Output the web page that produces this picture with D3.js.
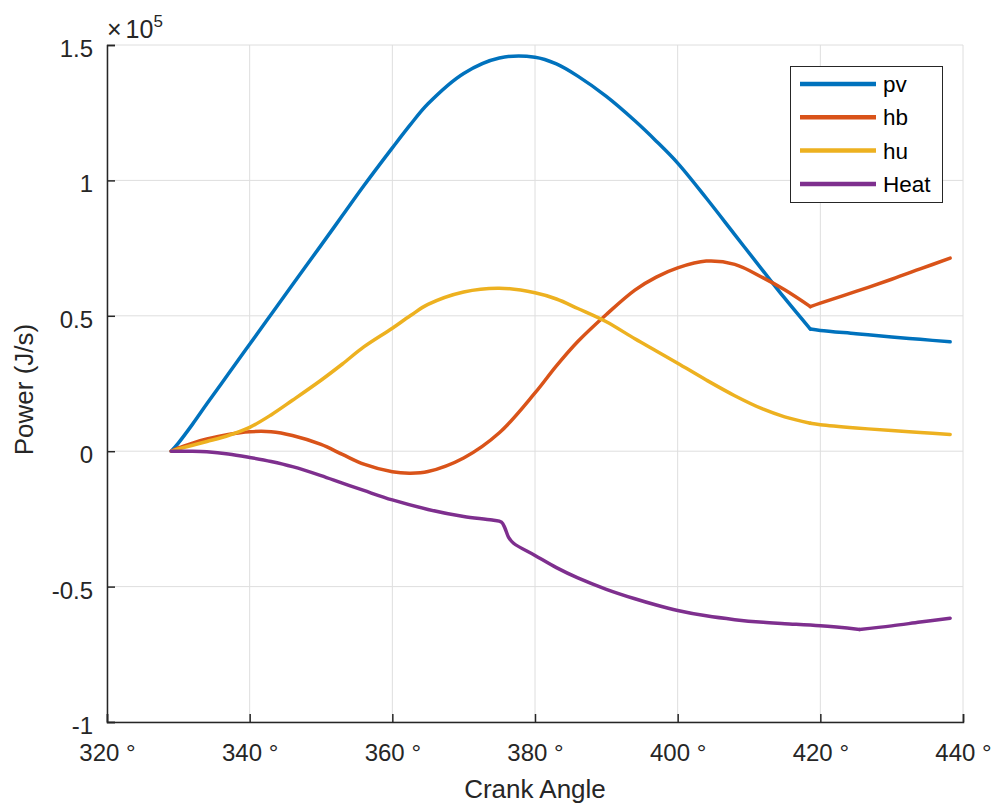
<!DOCTYPE html>
<html>
<head>
<meta charset="utf-8">
<script src="https://cdn.jsdelivr.net/npm/d3@7/dist/d3.min.js"></script>
<style>
  body { margin: 0; background: #ffffff; }
  svg { display: block; font-family: "Liberation Sans", Arial, sans-serif; }
</style>
</head>
<body>
<div id="chart"></div>
<script>
'use strict';

// crank angle samples (deg) for pv, hb, hu
var angle = [329, 330, 332, 334, 337, 340, 343, 346, 350, 353, 356, 360, 362.5, 365, 370, 375,
  380, 383, 386, 390, 394, 397, 400, 404, 408, 412, 415, 418.6, 420, 425, 430, 434, 438.2];
// crank angle samples (deg) for Heat (denser around the step near 376 deg)
var angleHeat = [329, 332, 334, 337, 340, 343, 346, 350, 353, 356, 360, 365, 370, 374, 375.3, 375.8, 376.3, 377,
  380, 383, 386, 390, 394, 397, 400, 404, 408, 412, 415, 420, 425.5, 430, 434, 438.2];

// power values, in units of 1e5 J/s
var pv = [0, 0.03, 0.10, 0.175, 0.285, 0.395, 0.505, 0.615, 0.76, 0.87, 0.98, 1.12, 1.205, 1.283, 1.395, 1.452,
  1.455, 1.43, 1.385, 1.31, 1.22, 1.145, 1.064, 0.935, 0.80, 0.665, 0.565, 0.451, 0.446, 0.434, 0.422, 0.413, 0.404];
var hb = [0, 0.012, 0.03, 0.045, 0.062, 0.072, 0.072, 0.058, 0.025, -0.012, -0.048, -0.076, -0.081, -0.075, -0.025, 0.068,
  0.215, 0.315, 0.405, 0.505, 0.595, 0.643, 0.677, 0.702, 0.69, 0.64, 0.596, 0.534, 0.547, 0.59, 0.635, 0.673, 0.713];
var hu = [0, 0.008, 0.022, 0.036, 0.058, 0.088, 0.134, 0.188, 0.262, 0.322, 0.385, 0.454, 0.50, 0.542, 0.588, 0.602,
  0.585, 0.562, 0.527, 0.478, 0.415, 0.37, 0.325, 0.263, 0.205, 0.155, 0.127, 0.103, 0.098, 0.086, 0.076, 0.069, 0.062];
var heat = [0, 0, -0.002, -0.01, -0.023, -0.038, -0.057, -0.09, -0.118, -0.145, -0.18, -0.215, -0.241, -0.254, -0.262, -0.285, -0.318, -0.34,
  -0.385, -0.43, -0.468, -0.51, -0.545, -0.568, -0.588, -0.608, -0.622, -0.632, -0.637, -0.645, -0.658, -0.645, -0.631, -0.617];

var seriesNames = ['pv', 'hb', 'hu', 'Heat'];
var seriesAngles = [angle, angle, angle, angleHeat];
var seriesValues = [pv, hb, hu, heat];
var seriesColors = ['#0072BD', '#D95319', '#EDB120', '#7E2F8E'];
// angles where a series has a sharp corner
var seriesBreaks = [[418.6], [418.6], [418.6], [425.5]];

var xTicks = [320, 340, 360, 380, 400, 420, 440];
var yTicks = [-1, -0.5, 0, 0.5, 1, 1.5];

(function draw() {
  var W = 997, H = 805;
  var mLeft = 107, mRight = 963, mTop = 45, mBottom = 722;

  var svg = d3.select('#chart').append('svg')
    .attr('width', W)
    .attr('height', H);

  var x = d3.scaleLinear().domain([320, 440]).range([mLeft, mRight]);
  var y = d3.scaleLinear().domain([-1, 1.5]).range([mBottom, mTop]);

  // grid lines
  svg.append('g').selectAll('line').data(xTicks).enter().append('line')
    .attr('x1', function(d) { return x(d); })
    .attr('x2', function(d) { return x(d); })
    .attr('y1', mTop)
    .attr('y2', mBottom)
    .style('stroke', '#dedede')
    .style('stroke-width', '1px');

  svg.append('g').selectAll('line').data(yTicks).enter().append('line')
    .attr('x1', mLeft)
    .attr('x2', mRight)
    .attr('y1', function(d) { return y(d); })
    .attr('y2', function(d) { return y(d); })
    .style('stroke', '#dedede')
    .style('stroke-width', '1px');

  // data lines, split at the corners so they stay sharp
  var line = d3.line()
    .x(function(d) { return x(d[0]); })
    .y(function(d) { return y(d[1]); })
    .curve(d3.curveCatmullRom.alpha(0.5));

  var plot = svg.append('g');
  seriesValues.forEach(function(vals, s) {
    var xs = seriesAngles[s];
    var pts = xs.map(function(a, i) { return [a, vals[i]]; });
    var cuts = [xs[0]].concat(seriesBreaks[s]).concat([xs[xs.length - 1]]);
    for (var k = 0; k < cuts.length - 1; k++) {
      var lo = cuts[k], hi = cuts[k + 1];
      var piece = pts.filter(function(p) { return p[0] >= lo && p[0] <= hi; });
      plot.append('path')
        .attr('d', line(piece))
        .style('fill', 'none')
        .style('stroke', seriesColors[s])
        .style('stroke-width', '3.5px')
        .style('stroke-linejoin', 'round')
        .style('stroke-linecap', 'round');
    }
  });

  // axes (MATLAB style, ticks inside)
  var xAxis = d3.axisBottom(x).tickValues(xTicks).tickSize(-8).tickPadding(0)
    .tickFormat(function(d) { return d + ' °'; });
  var yAxis = d3.axisLeft(y).tickValues(yTicks).tickSize(-8).tickPadding(0)
    .tickFormat(function(d) { return String(d); });

  var gx = svg.append('g').attr('transform', 'translate(0,' + mBottom + ')').call(xAxis);
  var gy = svg.append('g').attr('transform', 'translate(' + mLeft + ',0)').call(yAxis);

  [gx, gy].forEach(function(g) {
    g.select('.domain').style('stroke', '#262626').style('stroke-width', '1.5px');
    g.selectAll('.tick line').style('stroke', '#262626').style('stroke-width', '1.5px');
    g.selectAll('.tick text')
      .style('font-family', '"Liberation Sans", Arial, sans-serif')
      .style('font-size', '24px')
      .style('fill', '#262626');
  });

  gx.selectAll('.tick text').attr('y', 39).attr('dy', 0);
  gy.selectAll('.tick text').attr('x', -14).attr('dy', '0.35em').attr('y', 3);

  // exponent label
  var expo = svg.append('text')
    .attr('x', 107)
    .attr('y', 38)
    .style('font-size', '25px')
    .style('fill', '#262626');
  expo.append('tspan').text('×');
  expo.append('tspan').attr('dx', 4).text('10');
  expo.append('tspan').attr('dy', -11).style('font-size', '17px').text('5');

  // axis labels
  svg.append('text')
    .attr('x', (mLeft + mRight) / 2)
    .attr('y', 798)
    .attr('text-anchor', 'middle')
    .style('font-size', '26px')
    .style('fill', '#262626')
    .text('Crank Angle');

  svg.append('text')
    .attr('transform', 'translate(33,' + ((mTop + mBottom) / 2 + 6) + ') rotate(-90)')
    .attr('text-anchor', 'middle')
    .style('font-size', '26px')
    .style('fill', '#262626')
    .text('Power (J/s)');

  // legend
  var legend = svg.append('g');
  legend.append('rect')
    .attr('x', 790.5)
    .attr('y', 66.5)
    .attr('width', 152)
    .attr('height', 136)
    .style('fill', '#ffffff')
    .style('stroke', '#262626')
    .style('stroke-width', '1px');

  seriesNames.forEach(function(name, i) {
    var ly = 84 + i * 33.3;
    legend.append('line')
      .attr('x1', 800)
      .attr('x2', 876)
      .attr('y1', ly)
      .attr('y2', ly)
      .style('stroke', seriesColors[i])
      .style('stroke-width', '4.5px');
    legend.append('text')
      .attr('x', 883)
      .attr('y', ly)
      .attr('dy', '0.36em')
      .style('font-size', '22.5px')
      .style('fill', '#000000')
      .text(name);
  });
})();
</script>
</body>
</html>
